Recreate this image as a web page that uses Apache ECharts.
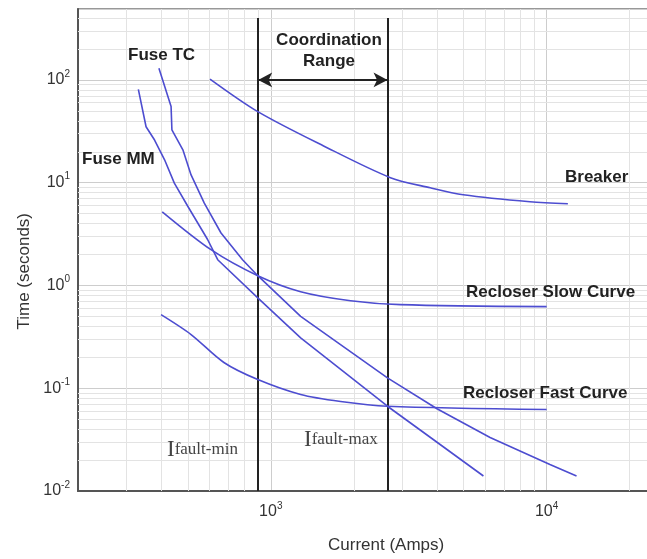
<!doctype html>
<html lang="en">
<head>
<meta charset="UTF-8">
<title>Time-current coordination</title>
<script src="https://cdn.jsdelivr.net/npm/echarts@6/dist/echarts.min.js"></script>
<style>
    html, body { margin: 0; padding: 0; background: #fff; }
    #main { width: 647px; height: 559px; }
</style>
</head>
<body>
<div id="main"></div>
<script>
// curves: [current (A), time (s)]
var fuseMM = [[331, 81], [353, 35], [379, 26], [412, 16.7], [447, 9.9], [500, 5.9], [590, 2.8],
    [642, 1.78], [897, 0.756], [1283, 0.309], [2648, 0.0668], [3881, 0.0317], [5900, 0.014]];
var fuseTC = [[393, 130], [435, 55], [438, 32.7], [480, 20.9], [514, 11.9], [574, 6.33], [660, 3.24],
    [790, 1.78], [897, 1.245], [1283, 0.501], [2648, 0.126], [4004, 0.0631], [6237, 0.0332],
    [10280, 0.0181], [12835, 0.014]];
var breaker = [[602, 102], [897, 49.2], [1554, 22.8], [2715, 11.2], [3786, 8.92], [4984, 7.63],
    [8700, 6.52], [11940, 6.24]];
var recloserSlow = [[404, 5.21], [607, 2.23], [897, 1.245], [1283, 0.87], [1946, 0.711],
    [2950, 0.651], [10000, 0.622]];
var recloserFast = [[400, 0.52], [514, 0.333], [676, 0.178], [897, 0.1215], [1283, 0.0869],
    [1791, 0.0743], [2648, 0.0668], [10000, 0.0621]];

// fault current limits (A)
var faultMin = 900;
var faultMax = 2650;

// minor grid values
var minorX = [300, 400, 500, 600, 700, 800, 900, 2000, 3000, 4000, 5000, 6000, 7000, 8000, 9000, 20000];
var minorY = [0.02, 0.03, 0.04, 0.05, 0.06, 0.07, 0.08, 0.09, 0.2, 0.3, 0.4, 0.5, 0.6, 0.7, 0.8, 0.9,
    2, 3, 4, 5, 6, 7, 8, 9, 20, 30, 40, 50, 60, 70, 80, 90, 200, 300, 400];

var myChart = echarts.init(document.getElementById('main'));

function powLabel(v) {
    var e = Math.log(v) / Math.LN10;
    if (Math.abs(e - Math.round(e)) > 1e-6) return '';
    return '{b|10}{s|' + Math.round(e) + '}';
}
var labelRich = {
    b: { fontSize: 16, fontFamily: 'Liberation Sans', color: '#333' },
    s: { fontSize: 10, fontFamily: 'Liberation Sans', color: '#333', padding: [0, 0, 12, 0] }
};

var blue = '#4d4dd0';
function curve(name, data, smooth) {
    return {
        name: name, type: 'line', data: data, smooth: smooth, symbol: 'none',
        lineStyle: { color: blue, width: 1.6 }, z: 5
    };
}

var boldFont = 'bold 17px "Liberation Sans", Arial, sans-serif';
function label(text, x, y) {
    return { type: 'text', left: x, top: y, z: 100, style: { text: text, font: boldFont, fill: '#222' } };
}
function faultLabel(sub, x, y) {
    return {
        type: 'text', left: x, top: y, z: 100,
        style: {
            text: '{i|I}{f|' + sub + '}',
            rich: {
                i: { fontSize: 23, fontFamily: 'Liberation Serif', fill: '#444' },
                f: { fontSize: 17, fontFamily: 'Liberation Serif', fill: '#444' }
            }
        }
    };
}

var option = {
    animation: false,
    grid: {
        left: 78, top: 9, width: 572, bottom: 68, outerBoundsMode: 'none', containLabel: false,
        show: true, borderColor: '#777', borderWidth: 1.5
    },
    xAxis: {
        type: 'log', logBase: 10, min: 200, max: 23700,
        axisLine: { lineStyle: { color: '#555', width: 2 } },
        axisTick: { show: false },
        splitLine: { show: true, lineStyle: { color: '#cdcdcd' } },
        axisLabel: { formatter: powLabel, margin: 10, rich: labelRich }
    },
    yAxis: {
        type: 'log', logBase: 10, min: 0.01, max: 490,
        axisLine: { show: true, lineStyle: { color: '#555', width: 2 } },
        axisTick: { show: false },
        splitLine: { show: true, lineStyle: { color: '#cdcdcd' } },
        axisLabel: { formatter: powLabel, margin: 8, rich: labelRich }
    },
    series: [
        {
            type: 'line', data: [], silent: true, z: 1,
            markLine: {
                silent: true, symbol: 'none', label: { show: false },
                lineStyle: { color: '#e3e3e3', type: 'solid', width: 1 },
                data: minorX.map(function (v) { return { xAxis: v }; })
                    .concat(minorY.map(function (v) { return { yAxis: v }; }))
            }
        },
        {
            type: 'line', data: [], silent: true, z: 6,
            markLine: {
                silent: true, symbol: 'none', label: { show: false },
                lineStyle: { color: '#222', type: 'solid', width: 2 },
                data: [
                    [{ coord: [faultMin, 0.01] }, { coord: [faultMin, 400] }],
                    [{ coord: [faultMax, 0.01] }, { coord: [faultMax, 400] }]
                ]
            }
        },
        {
            type: 'line', data: [], silent: true, z: 6,
            markLine: {
                silent: true, symbol: ['arrow', 'arrow'], symbolSize: [11, 14], label: { show: false },
                lineStyle: { color: '#222', type: 'solid', width: 2 },
                data: [[{ coord: [faultMin, 100] }, { coord: [faultMax, 100] }]]
            }
        },
        curve('Fuse MM', fuseMM, false),
        curve('Fuse TC', fuseTC, false),
        curve('Breaker', breaker, 0.3),
        curve('Recloser Slow Curve', recloserSlow, 0.3),
        curve('Recloser Fast Curve', recloserFast, 0.3)
    ],
    graphic: [
        label('Fuse TC', 128, 47),
        label('Fuse MM', 82, 151),
        {
            type: 'text', x: 329, y: 30, z: 100,
            style: { text: 'Coordination\nRange', font: boldFont, fill: '#222', align: 'center', lineHeight: 21 }
        },
        label('Breaker', 565, 169),
        label('Recloser Slow Curve', 466, 284),
        label('Recloser Fast Curve', 463, 385),
        faultLabel('fault-min', 167, 438),
        faultLabel('fault-max', 304, 428),
        {
            type: 'text', left: 328, top: 537, z: 100,
            style: { text: 'Current (Amps)', font: '17px "Liberation Sans", Arial, sans-serif', fill: '#333' }
        },
        {
            type: 'text', left: 16, top: 213, rotation: Math.PI / 2, z: 100,
            style: { text: 'Time (seconds)', font: '17px "Liberation Sans", Arial, sans-serif', fill: '#333' }
        }
    ]
};
myChart.setOption(option);
</script>
</body>
</html>
